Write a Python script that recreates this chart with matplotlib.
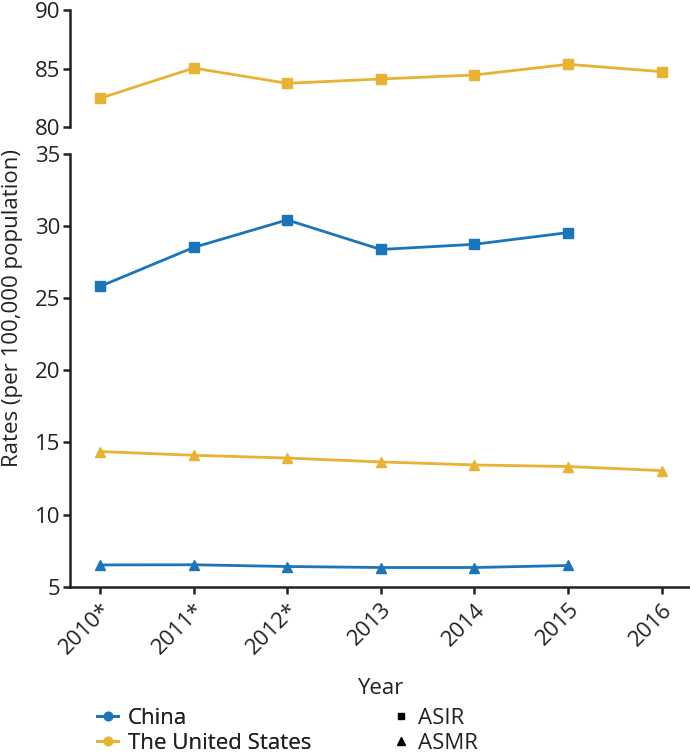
import matplotlib
matplotlib.use("Agg")
import matplotlib.pyplot as plt
from matplotlib.lines import Line2D

plt.rcParams['font.family'] = ['Open Sans', 'DejaVu Sans']

years = ["2010*", "2011*", "2012*", "2013", "2014", "2015", "2016"]
us_asir = [82.47, 85.05, 83.75, 84.12, 84.46, 85.37, 84.74]
china_asir = [25.82, 28.52, 30.43, 28.38, 28.74, 29.55]
us_asmr = [14.37, 14.11, 13.92, 13.65, 13.44, 13.33, 13.05]
china_asmr = [6.51, 6.52, 6.40, 6.33, 6.33, 6.47]

blue = "#1B75BB"
gold = "#E8B232"
txt = "#222222"
fs = 16

fig = plt.figure(figsize=(6.9, 7.54), dpi=100)
L, W = 70/690, 620/690
ax_top = fig.add_axes([L, 1-127.3/754, W, (127.3-10)/754])
ax = fig.add_axes([L, 1-586.7/754, W, (586.7-154)/754])

x_all = list(range(len(years)))
x_cn = x_all[:len(china_asir)]

lw, ms = 2.0, 7.5
ax_top.plot(x_all, us_asir, color=gold, lw=lw, marker='s', ms=ms)
ax.plot(x_cn, china_asir, color=blue, lw=lw, marker='s', ms=ms)
ax.plot(x_all, us_asmr, color=gold, lw=lw, marker='^', ms=ms)
ax.plot(x_cn, china_asmr, color=blue, lw=lw, marker='^', ms=ms)

xl = (-30/93.6, 6 + 28.3/93.6)
for a in (ax_top, ax):
    a.set_xlim(*xl)
    for s in ('top', 'right'):
        a.spines[s].set_visible(False)
    a.spines['left'].set_linewidth(1.8)
    a.spines['left'].set_color(txt)
    a.tick_params(axis='y', width=1.8, length=5, labelsize=fs, colors=txt, pad=2)

ax_top.spines['bottom'].set_visible(False)
ax_top.set_xticks([])
ax_top.set_ylim(80, 90)
ax_top.set_yticks([80, 85, 90])

ax.set_ylim(5, 35)
ax.set_yticks([5, 10, 15, 20, 25, 30, 35])
ax.spines['bottom'].set_linewidth(1.8)
ax.spines['bottom'].set_color(txt)
ax.set_xticks(x_all)
ax.set_xticklabels(years, rotation=45, ha='right', rotation_mode='anchor')
ax.tick_params(axis='x', width=1.8, length=5, labelsize=fs, colors=txt, pad=4)

fig.text(380/690, 1-689/754, "Year", ha='center', va='center', fontsize=fs, color=txt)
fig.text(13/690, 1-308/754, "Rates (per 100,000 population)", rotation=90,
         ha='center', va='center', fontsize=fs, color=txt)

h1 = [Line2D([], [], color=blue, lw=2, marker='o', ms=6),
      Line2D([], [], color=gold, lw=2, marker='o', ms=6)]
h2 = [Line2D([], [], color='black', lw=0, marker='s', ms=5),
      Line2D([], [], color='black', lw=0, marker='^', ms=6)]
yc = 1-731/754
common = dict(loc='center left', frameon=False, fontsize=fs, borderpad=0,
              borderaxespad=0, labelspacing=0.18, labelcolor=txt)
leg1 = fig.legend(h1, ["China", "The United States"], bbox_to_anchor=(97/690, yc),
                  handlelength=0.95, handletextpad=0.45, **common)
fig.add_artist(leg1)
fig.legend(h2, ["ASIR", "ASMR"], bbox_to_anchor=(393/690, yc),
           handlelength=0.7, handletextpad=0.43, **common)

fig.savefig("out.png", dpi=100)
